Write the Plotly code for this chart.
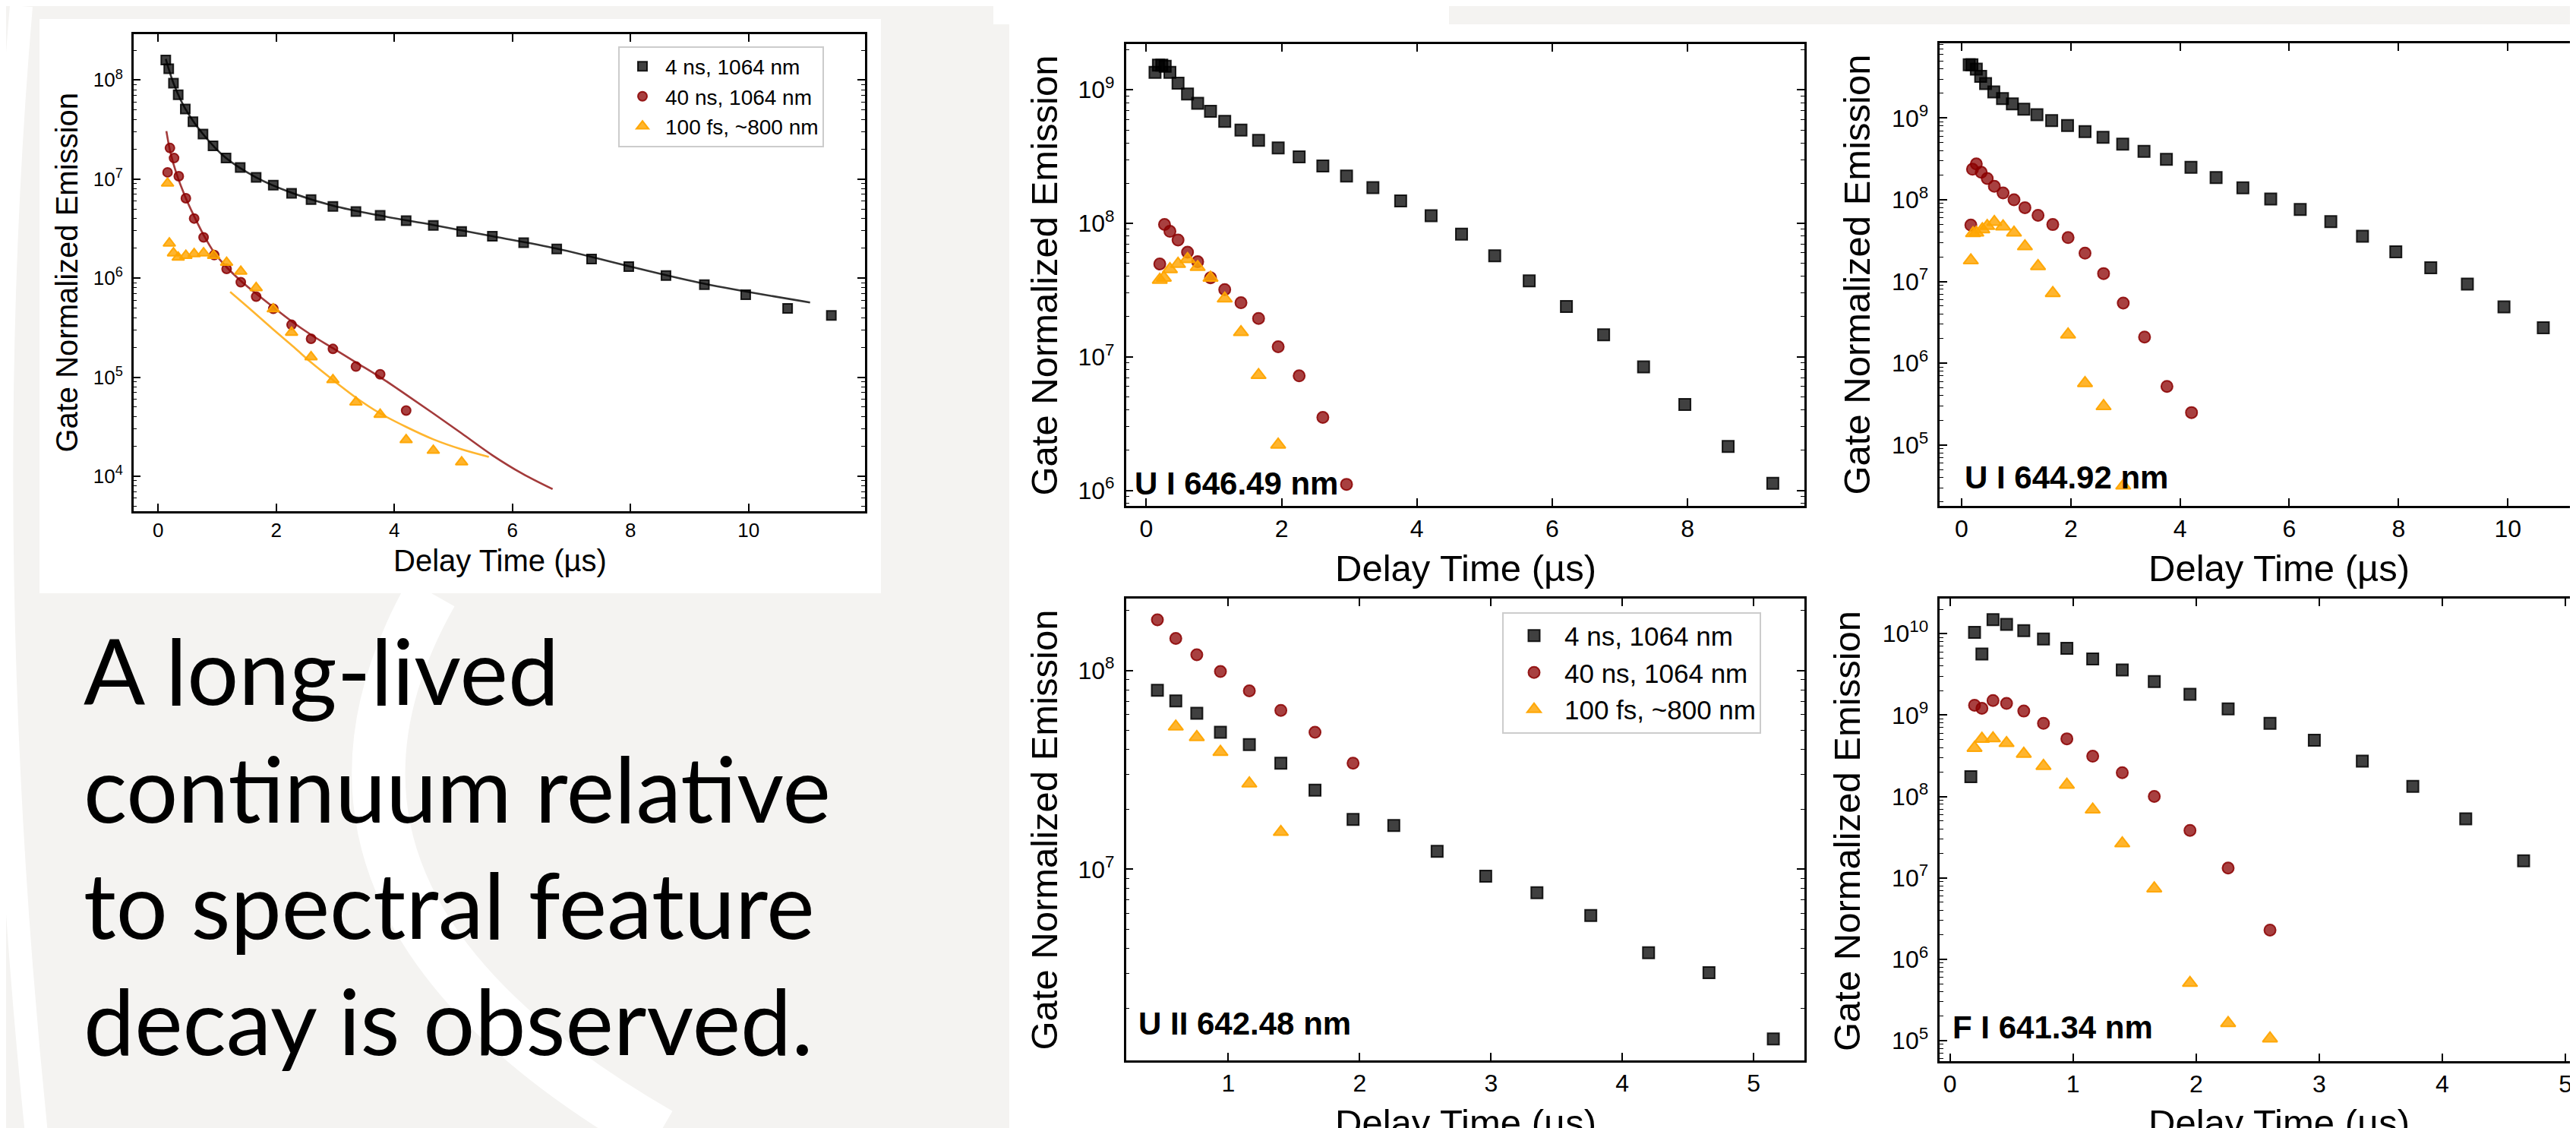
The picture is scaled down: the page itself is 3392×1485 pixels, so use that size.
import plotly.graph_objects as go

W, H = 3392, 1485

# ---------------- data ----------------
# overview panel (top-left)
tl_x_4ns = [0.13, 0.18, 0.26, 0.34, 0.46, 0.59, 0.76, 0.93, 1.15, 1.39, 1.66, 1.95, 2.26, 2.59, 2.96,
            3.35, 3.76, 4.20, 4.66, 5.14, 5.66, 6.19, 6.75, 7.34, 7.97, 8.60, 9.25, 9.95, 10.66, 11.40]
tl_y_4ns = [1.59e8, 1.30e8, 9.3e7, 7.1e7, 5.1e7, 3.8e7, 2.85e7, 2.17e7, 1.63e7, 1.31e7, 1.04e7, 8.7e6,
            7.2e6, 6.2e6, 5.3e6, 4.7e6, 4.3e6, 3.8e6, 3.4e6, 2.96e6, 2.65e6, 2.28e6, 1.97e6, 1.56e6,
            1.31e6, 1.06e6, 8.6e5, 6.8e5, 4.95e5, 4.2e5]
tl_x_40ns = [0.16, 0.20, 0.27, 0.35, 0.47, 0.61, 0.77, 0.95, 1.16, 1.40, 1.66, 1.95, 2.26, 2.59, 2.96,
             3.35, 3.76, 4.20]
tl_y_40ns = [1.17e7, 2.06e7, 1.63e7, 1.07e7, 6.4e6, 4.0e6, 2.58e6, 1.71e6, 1.24e6, 9.1e5, 6.5e5, 4.9e5,
             3.38e5, 2.44e5, 1.93e5, 1.28e5, 1.07e5, 4.6e4]
tl_x_100fs = [0.16, 0.19, 0.26, 0.34, 0.47, 0.61, 0.77, 0.94, 1.16, 1.40, 1.66, 1.95, 2.26, 2.59, 2.96,
              3.35, 3.76, 4.20, 4.66, 5.14]
tl_y_100fs = [9.06e6, 2.25e6, 1.79e6, 1.62e6, 1.69e6, 1.76e6, 1.79e6, 1.69e6, 1.44e6, 1.17e6, 7.98e5,
              4.88e5, 2.83e5, 1.60e5, 9.4e4, 5.6e4, 4.2e4, 2.33e4, 1.82e4, 1.39e4]
# fitted curves drawn in the overview panel
fit_x_4ns = [0.13, 0.26, 0.46, 0.76, 1.15, 1.66, 2.26, 2.96, 3.76, 4.66, 5.66, 6.75, 7.97, 9.25, 11.04]
fit_y_4ns = [1.63e8, 9.3e7, 5.13e7, 2.85e7, 1.63e7, 1.04e7, 7.28e6, 5.39e6, 4.28e6, 3.44e6, 2.65e6,
             1.99e6, 1.32e6, 8.79e5, 5.68e5]
fit_x_40ns = [0.14, 0.21, 0.31, 0.46, 0.61, 0.77, 0.95, 1.16, 1.40, 1.66, 1.95, 2.26, 2.59, 2.96, 3.35,
              3.76, 4.20, 4.66, 5.14, 5.66, 6.17, 6.68]
fit_y_40ns = [3.05e7, 1.84e7, 1.14e7, 6.62e6, 4.22e6, 2.73e6, 1.81e6, 1.29e6, 9.4e5, 6.97e5, 5.09e5,
              3.67e5, 2.68e5, 1.96e5, 1.41e5, 1.00e5, 6.66e4, 4.31e4, 2.71e4, 1.63e4, 1.06e4, 7.41e3]
fit_x_100fs = [1.22, 1.60, 1.95, 2.30, 2.59, 2.96, 3.35, 3.76, 4.20, 4.66, 5.14, 5.60]
fit_y_100fs = [7.26e5, 4.63e5, 3.03e5, 2.01e5, 1.41e5, 9.38e4, 6.22e4, 4.31e4, 3.15e4, 2.36e4, 1.87e4,
               1.57e4]

# U I 646.49 nm
a_x_4ns = [0.13, 0.18, 0.23, 0.28, 0.35, 0.47, 0.61, 0.76, 0.95, 1.16, 1.40, 1.66, 1.95, 2.26, 2.61,
           2.96, 3.35, 3.76, 4.21, 4.66, 5.15, 5.66, 6.21, 6.76, 7.35, 7.96, 8.60, 9.26]
a_y_4ns = [1.35e9, 1.53e9, 1.53e9, 1.50e9, 1.35e9, 1.12e9, 9.3e8, 7.9e8, 6.9e8, 5.8e8, 4.98e8, 4.18e8,
           3.67e8, 3.14e8, 2.69e8, 2.26e8, 1.85e8, 1.47e8, 1.14e8, 8.3e7, 5.7e7, 3.70e7, 2.38e7,
           1.46e7, 8.4e6, 4.4e6, 2.13e6, 1.13e6]
a_x_40ns = [0.20, 0.27, 0.35, 0.47, 0.61, 0.76, 0.95, 1.16, 1.40, 1.66, 1.95, 2.26, 2.61, 2.96]
a_y_40ns = [4.96e7, 9.8e7, 8.7e7, 7.5e7, 6.07e7, 5.15e7, 3.91e7, 3.19e7, 2.54e7, 1.94e7, 1.19e7, 7.2e6,
            3.52e6, 1.11e6]
a_x_100fs = [0.20, 0.26, 0.35, 0.47, 0.61, 0.76, 0.95, 1.16, 1.40, 1.66, 1.95]
a_y_100fs = [3.77e7, 3.91e7, 4.53e7, 4.96e7, 5.39e7, 4.7e7, 3.91e7, 2.73e7, 1.53e7, 7.3e6, 2.2e6]

# U I 644.92 nm
b_x_4ns = [0.14, 0.19, 0.27, 0.35, 0.44, 0.59, 0.75, 0.93, 1.14, 1.38, 1.65, 1.94, 2.26, 2.59, 2.95,
           3.34, 3.75, 4.20, 4.66, 5.15, 5.66, 6.20, 6.76, 7.34, 7.95, 8.59, 9.26, 9.93, 10.65, 11.40]
b_y_4ns = [4.49e9, 4.49e9, 3.97e9, 3.24e9, 2.64e9, 2.09e9, 1.73e9, 1.49e9, 1.28e9, 1.10e9, 9.3e8,
           8.1e8, 6.8e8, 5.8e8, 4.79e8, 3.90e8, 3.13e8, 2.49e8, 1.87e8, 1.40e8, 1.02e8, 7.59e7,
           5.39e7, 3.58e7, 2.31e7, 1.47e7, 9.3e6, 4.88e6, 2.72e6, 1.39e6]
b_x_40ns = [0.17, 0.20, 0.27, 0.36, 0.47, 0.60, 0.76, 0.96, 1.16, 1.40, 1.67, 1.95, 2.26, 2.60, 2.96,
            3.35, 3.76, 4.21]
b_y_40ns = [4.90e7, 2.36e8, 2.74e8, 2.17e8, 1.82e8, 1.46e8, 1.21e8, 9.97e7, 8.0e7, 6.45e7, 4.97e7,
            3.44e7, 2.22e7, 1.25e7, 5.45e6, 2.09e6, 5.2e5, 2.49e5]
b_x_100fs = [0.17, 0.21, 0.27, 0.38, 0.47, 0.60, 0.76, 0.96, 1.16, 1.40, 1.67, 1.95, 2.26, 2.60, 2.96]
b_y_100fs = [1.81e7, 3.89e7, 3.95e7, 4.34e7, 4.77e7, 5.33e7, 4.71e7, 3.95e7, 2.69e7, 1.54e7, 7.2e6,
             2.24e6, 5.7e5, 2.98e5, 3.18e4]

# U II 642.48 nm
c_x_4ns = [0.46, 0.60, 0.76, 0.94, 1.16, 1.40, 1.66, 1.95, 2.26, 2.59, 2.96, 3.35, 3.76, 4.20, 4.66, 5.15]
c_y_4ns = [7.96e7, 7.03e7, 6.10e7, 4.89e7, 4.24e7, 3.42e7, 2.50e7, 1.78e7, 1.66e7, 1.23e7, 9.23e6,
           7.62e6, 5.85e6, 3.80e6, 3.02e6, 1.40e6]
c_x_40ns = [0.46, 0.60, 0.76, 0.94, 1.16, 1.40, 1.66, 1.95]
c_y_40ns = [1.80e8, 1.45e8, 1.20e8, 9.88e7, 7.9e7, 6.3e7, 4.89e7, 3.42e7]
c_x_100fs = [0.60, 0.76, 0.94, 1.16, 1.40]
c_y_100fs = [5.22e7, 4.62e7, 3.89e7, 2.70e7, 1.54e7]

# F I 641.34 nm
d_x_4ns = [0.17, 0.20, 0.26, 0.35, 0.46, 0.60, 0.76, 0.95, 1.16, 1.40, 1.66, 1.95, 2.26, 2.60, 2.96,
           3.35, 3.76, 4.19, 4.66, 5.15]
d_y_4ns = [1.75e8, 1.04e10, 5.62e9, 1.49e10, 1.30e10, 1.09e10, 8.6e9, 6.63e9, 4.90e9, 3.58e9, 2.58e9,
           1.80e9, 1.19e9, 7.9e8, 4.90e8, 2.72e8, 1.33e8, 5.32e7, 1.62e7, 2.75e6]
d_x_40ns = [0.20, 0.26, 0.35, 0.46, 0.60, 0.76, 0.95, 1.16, 1.40, 1.66, 1.95, 2.26, 2.60]
d_y_40ns = [1.32e9, 1.21e9, 1.51e9, 1.39e9, 1.12e9, 7.9e8, 5.11e8, 3.12e8, 1.96e8, 1.0e8, 3.83e7,
            1.32e7, 2.28e6]
d_x_100fs = [0.20, 0.26, 0.35, 0.46, 0.60, 0.76, 0.95, 1.16, 1.40, 1.66, 1.95, 2.26, 2.60]
d_y_100fs = [3.94e8, 5.11e8, 5.17e8, 4.52e8, 3.34e8, 2.37e8, 1.39e8, 6.9e7, 2.65e7, 7.4e6, 5.1e5,
             1.64e5, 1.06e5]

series_names = ["4 ns, 1064 nm", "40 ns, 1064 nm", "100 fs, ~800 nm"]
panel_labels = ["U I 646.49 nm", "U I 644.92 nm", "U II 642.48 nm", "F I 641.34 nm"]
x_title = "Delay Time (µs)"
y_title = "Gate Normalized Emission"
text_lines = ["A long-lived", "continuum relative", "to spectral feature", "decay is observed."]

# ---------------- styling ----------------
FONT = "Liberation Sans, Arial, sans-serif"
BLK_FILL, BLK_EDGE = "rgba(0,0,0,0.75)", "rgba(0,0,0,0.85)"
RED_FILL, RED_EDGE = "rgba(139,0,0,0.75)", "rgba(139,0,0,0.85)"
ORG_FILL, ORG_EDGE = "rgba(255,165,0,0.82)", "rgba(255,165,0,0.95)"
GRAY = "#f4f3f1"


def px(x):
    return x / W


def py(y):
    return 1 - y / H


fig = go.Figure()


def add_series(xa, ya, sets, size, legend=None):
    styles = [("square", BLK_FILL, BLK_EDGE, size),
              ("circle", RED_FILL, RED_EDGE, size),
              ("triangle-up", ORG_FILL, ORG_EDGE, size + 2)]
    for (xs, ys), name, (sym, fc, ec, sz) in zip(sets, series_names, styles):
        fig.add_trace(go.Scatter(
            x=xs, y=ys, mode="markers", name=name, xaxis=xa, yaxis=ya,
            showlegend=legend is not None, legend=legend if legend else "legend",
            marker=dict(symbol=sym, size=sz, color=fc, line=dict(color=ec, width=2))))


# fits in overview
for fx, fy, col in [(fit_x_4ns, fit_y_4ns, "#333333"), (fit_x_40ns, fit_y_40ns, "#a33a3a"),
                    (fit_x_100fs, fit_y_100fs, "#ffb52e")]:
    fig.add_trace(go.Scatter(x=fx, y=fy, mode="lines", xaxis="x", yaxis="y", showlegend=False,
                             line=dict(color=col, width=2.6, shape="spline"), hoverinfo="skip"))

add_series("x", "y", [(tl_x_4ns, tl_y_4ns), (tl_x_40ns, tl_y_40ns), (tl_x_100fs, tl_y_100fs)], 12,
           legend="legend")
add_series("x2", "y2", [(a_x_4ns, a_y_4ns), (a_x_40ns, a_y_40ns), (a_x_100fs, a_y_100fs)], 15)
add_series("x3", "y3", [(b_x_4ns, b_y_4ns), (b_x_40ns, b_y_40ns), (b_x_100fs, b_y_100fs)], 15)
add_series("x4", "y4", [(c_x_4ns, c_y_4ns), (c_x_40ns, c_y_40ns), (c_x_100fs, c_y_100fs)], 15,
           legend="legend2")
add_series("x5", "y5", [(d_x_4ns, d_y_4ns), (d_x_40ns, d_y_40ns), (d_x_100fs, d_y_100fs)], 15)

# axes: (suffix, x px range, y px range, x range, log y range, xticks, decades, tick font, right side visible)
panels = [
    ("", (167.7, 1131), (37, 665), [-0.418, 11.97], [3.647, 8.463], [0, 2, 4, 6, 8, 10], range(4, 9), 26, True),
    ("2", (1474.7, 2367.7), (49.8, 658), [-0.299, 9.724], [5.884, 9.343], [0, 2, 4, 6, 8], range(6, 10), 32, True),
    ("3", (2546.3, 3392), (49.1, 657.5), [-0.398, 11.36], [4.259, 9.913], [0, 2, 4, 6, 8, 10], range(5, 10), 32, False),
    ("4", (1474.7, 2367.7), (780, 1388.2), [0.221, 5.385], [6.0375, 8.362], [1, 2, 3, 4, 5], range(7, 9), 32, True),
    ("5", (2546.3, 3392), (780.3, 1388.7), [-0.082, 5.135], [4.75, 10.429], [0, 1, 2, 3, 4, 5], range(5, 11), 32, False),
]

lay = {}
for suf, (xl, xr), (yt, yb), xr_, yr_, xt, decs, tf, right in panels:
    minors = [m * 10 ** d for d in range(int(yr_[0]) - 1, int(yr_[1]) + 1) for m in range(2, 10)]
    lay["xaxis" + suf] = dict(
        domain=[px(xl), px(xr)], range=xr_, anchor="y" + suf, showgrid=False, zeroline=False,
        showline=True, linecolor="black", linewidth=2.5, mirror="ticks",
        ticks="inside", ticklen=10, tickwidth=2, tickcolor="black",
        tickvals=xt, ticktext=[str(v) for v in xt],
        tickfont=dict(family=FONT, size=tf, color="black"))
    lay["yaxis" + suf] = dict(
        domain=[py(yb), py(yt)], type="log", range=yr_, anchor="x" + suf, showgrid=False,
        zeroline=False, showline=True, linecolor="black", linewidth=2.5,
        mirror="ticks" if right else False,
        ticks="inside", ticklen=10, tickwidth=2, tickcolor="black",
        tickvals=[10 ** d for d in decs], ticktext=["10<sup>%d</sup>" % d for d in decs],
        tickfont=dict(family=FONT, size=tf, color="black"), ticklabelstandoff=6,
        minor=dict(tickmode="array", tickvals=minors, ticks="inside", ticklen=5, tickwidth=1.3,
                   tickcolor="black", showgrid=False))

# ---------------- background shapes ----------------
shapes = []


def rect(x0, y0, x1, y1, color):
    shapes.append(dict(type="rect", xref="paper", yref="paper", x0=px(x0), x1=px(x1), y0=py(y1),
                       y1=py(y0), fillcolor=color, line=dict(width=0), layer="below"))


rect(0, 0, 1321, 1485, GRAY)
rect(1900, 0, 3392, 24, GRAY)
# white arcs of the faint watermark
shapes.append(dict(type="path", xref="paper", yref="paper", layer="below",
                   path="M %f,%f Q %f,%f %f,%f" % (px(560), py(773), px(330), py(1180), px(860), py(1485)),
                   line=dict(color="white", width=70)))
shapes.append(dict(type="path", xref="paper", yref="paper", layer="below",
                   path="M %f,%f Q %f,%f %f,%f" % (px(20), py(0), px(-40), py(700), px(40), py(1485)),
                   line=dict(color="white", width=30)))
rect(44, 17, 1152, 773, "white")
rect(1321, 24, 3392, 1485, "white")
rect(1300, 0, 1900, 24, "white")

# ---------------- annotations ----------------
ann = []


def text(x, y, s, size, angle=0, anchor="center", bold=False, family=FONT):
    ann.append(dict(xref="paper", yref="paper", x=px(x), y=py(y), text="<b>%s</b>" % s if bold else s,
                    showarrow=False, textangle=angle, xanchor=anchor, yanchor="middle",
                    font=dict(family=family, size=size, color="black")))


text(650, 730, x_title, 40)
text(79.6, 351, y_title, 40, angle=-90)
for cx, cy in [(1922, 740), (2993, 740), (1922, 1470), (2993, 1470)]:
    text(cx, cy, x_title, 49)
for cx, cy in [(1366.6, 355), (2436.6, 354), (1366.6, 1085), (2424, 1086)]:
    text(cx, cy, y_title, 49, angle=-90)
for (lx, ly), lab in zip([(1483.8, 628), (2577, 620), (1489.4, 1339), (2561, 1344)], panel_labels):
    text(lx, ly, lab, 42, anchor="left", bold=True)
for cy, line in zip([874, 1029, 1182, 1335], text_lines):
    text(100, cy, line, 120, anchor="left", family="Lato, Open Sans, sans-serif")

fig.update_layout(
    width=W, height=H, margin=dict(l=0, r=0, t=0, b=0), autosize=False,
    paper_bgcolor="white", plot_bgcolor="white",
    shapes=shapes, annotations=ann,
    legend=dict(x=px(806), y=py(52.6), xanchor="left", yanchor="top", bgcolor="white",
                bordercolor="#cccccc", borderwidth=2, font=dict(family=FONT, size=28, color="black"),
                itemsizing="trace", itemwidth=50, tracegroupgap=0),
    legend2=dict(x=px(1970), y=py(797.5), xanchor="left", yanchor="top", bgcolor="white",
                 bordercolor="#cccccc", borderwidth=2, font=dict(family=FONT, size=35, color="black"),
                 itemsizing="trace", itemwidth=70, tracegroupgap=0),
    **lay)

fig.write_html("out.html")
